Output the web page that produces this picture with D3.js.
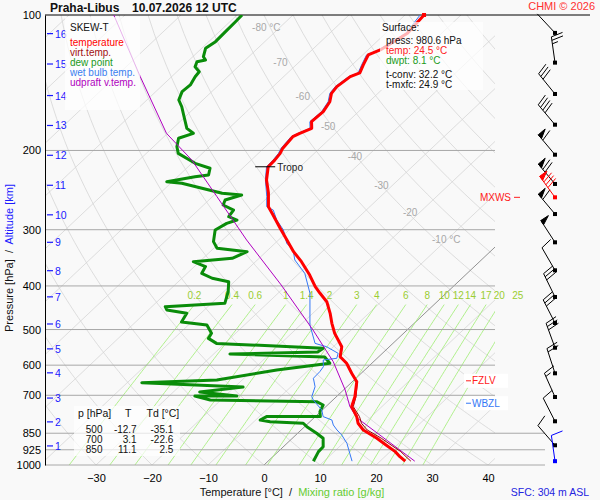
<!DOCTYPE html>
<html>
<head>
<meta charset="utf-8">
<script src="https://cdn.jsdelivr.net/npm/d3@7"></script>
<style>
  body { margin: 0; background: #f9f9f9; }
  svg { font-family: "Liberation Sans", Arial, sans-serif; }
</style>
</head>
<body>
<div id="container"></div>
<script>
// ---- sounding data [pressure hPa, value °C] ----
const tempProfile = [[980.6,24.5],[958.5,22.7],[933.9,20.9],[902.7,18.0],[872.2,15.1],[835.9,11.1],[807.7,8.9],[780.7,7.4],[741.9,4.6],[705.0,3.3],[653.0,0.8],[625.5,-1.7],[594.3,-4.5],[574.5,-6.9],[546.0,-8.5],[509.8,-12.3],[484.3,-14.7],[460.2,-16.9],[433.6,-19.7],[415.3,-22.5],[401.6,-24.6],[378.3,-27.8],[353.3,-31.8],[335.7,-35.1],[316.2,-38.5],[297.4,-42.0],[278.3,-45.7],[266.7,-48.1],[248.6,-50.7],[232.6,-53.5],[217.4,-55.7],[210.1,-55.8],[203.0,-56.1],[197.9,-56.6],[186.4,-57.0],[183.2,-56.4],[178.6,-55.2],[172.6,-56.5],[164.0,-56.3],[155.9,-57.0],[149.3,-58.3],[144.3,-58.6],[137.1,-58.1],[134.5,-57.1],[129.1,-58.0],[122.7,-59.0],[119.6,-57.8],[109.8,-56.1],[100.0,-56.6]];

const virtProfile = [[980.6,25.5],[958.5,23.8],[933.9,21.9],[902.7,18.9],[872.2,15.9],[835.9,11.8],[807.7,9.5],[780.7,7.9],[741.9,4.9],[705.0,3.5],[653.0,0.9],[625.5,-1.6],[594.3,-4.4],[574.5,-6.8],[546.0,-8.4],[509.8,-12.2]];

const dewProfile = [[980.6,8.1],[933.9,7.2],[910.5,7.1],[872.2,5.5],[850.3,3.4],[822.0,0.4],[807.7,-0.9],[801.3,-7.1],[794.3,-9.2],[780.7,-8.7],[780.7,0.9],[761.3,-0.1],[735.6,-0.8],[723.3,-2.6],[717.1,-21.9],[702.6,-25.4],[702.6,-17.9],[688.3,-25.3],[671.0,-18.5],[656.2,-37.4],[647.4,-24.5],[615.0,-15.7],[594.3,-7.5],[575.4,-9.6],[566.6,-27.1],[560.9,-11.8],[550.4,-11.5],[536.7,-31.5],[523.1,-33.9],[509.8,-34.3],[488.5,-36.7],[481.1,-41.8],[460.2,-42.5],[452.4,-46.7],[444.8,-47.6],[437.2,-37.6],[412.0,-39.2],[391.4,-41.0],[384.6,-44.6],[375.0,-47.4],[362.4,-48.0],[353.3,-51.1],[347.3,-44.8],[335.7,-43.4],[329.9,-49.4],[318.9,-51.3],[300.5,-53.2],[290.4,-52.4],[285.5,-51.2],[280.7,-53.3],[271.3,-53.7],[264.4,-56.5],[257.7,-57.1],[251.2,-55.1],[249.0,-58.9],[236.6,-68.0],[234.6,-71.0],[228.7,-66.9],[226.7,-64.8],[219.1,-65.8],[213.6,-69.4],[203.0,-74.3],[196.2,-75.8],[187.9,-77.1],[183.2,-75.4],[178.6,-77.5],[166.8,-80.6],[159.9,-82.5],[154.5,-84.3],[148.0,-85.3],[143.0,-85.1],[137.1,-85.8],[133.7,-86.0],[130.3,-87.7],[127.0,-88.3],[125.9,-87.1],[123.8,-88.1],[118.6,-89.3],[114.6,-88.8],[108.9,-88.9],[103.5,-89.0],[100.0,-89.1]];

const wetProfile = [[980.6,15.0],[941.9,13.1],[894.9,10.7],[857.6,8.2],[835.9,6.4],[814.8,4.8],[794.3,3.6],[780.7,1.4],[754.6,-0.1],[717.1,-3.5],[705.0,-4.4],[669.9,-5.7],[641.6,-7.6],[620.4,-7.7],[604.7,-8.0],[584.3,-9.3],[579.3,-7.2],[564.7,-7.9],[546.0,-11.2],[536.7,-13.9],[488.5,-18.3],[415.3,-24.3],[375.0,-29.0],[350.3,-33.3],[332.8,-35.5],[321.7,-37.9],[300.5,-41.0],[285.5,-44.1],[271.3,-46.6],[266.7,-48.4],[253.3,-50.3],[232.6,-53.7],[217.4,-56.0],[210.1,-56.1],[203.0,-56.4],[197.9,-56.9],[186.4,-57.3],[183.2,-56.7],[178.6,-55.5],[172.6,-56.8],[164.0,-56.6],[155.9,-57.3],[149.3,-58.6],[144.3,-58.9],[137.1,-58.4],[134.5,-57.4],[129.1,-58.3],[122.7,-59.3],[119.6,-58.1],[109.8,-56.4],[100.0,-57.3]];

const parcelProfile = [[980.6,26.2],[786.0,7.7],[741.9,4.3],[681.3,0.3],[589.3,-7.2],[501.2,-16.8],[398.1,-31.0],[316.2,-45.7],[253.3,-59.2],[210.1,-70.6],[183.2,-80.2],[137.1,-95.6],[100.0,-112.0]];

// ---- axes / reference values ----
const pressTicks = [100,200,300,400,500,600,700,850,925,1000];
const tempTicks = [-30,-20,-10,0,10,20,30,40];
const altKm = [1,2,3,4,5,6,7,8,9,10,11,12,13,14,15,16];
const altP  = [907,802,710,624,552,486,423,370,320,278,239,205,176,151,128.5,110];
const mixW  = [0.2,0.4,0.6,1,1.4,2,3,4,6,8,10,12,14,17,20,25];
const mixLabels = ["0.2","0.4","0.6","1","1.4","2","3","4","6","8","10","12","14","17","20","25"];
const isoLabT = [-80,-70,-60,-50,-40,-30,-20,-10];
const isoLabP = [106.5,127.4,151.4,177.1,205.8,239.5,275.4,316.2];

// ---- winds (pressure, direction deg, speed kt) ----
const windP   = [109.6,127.6,149.8,175.3,204.4,237.4,276.9,320,369.3,423.3,483.6,548.8,625.5,706.2,799.6,904];
const windDir = [317,352,321,320,320,320,320,327,330,334,333,340,342,336,333,319];
const windSpd = [0,25,30,40,60,70,60,50,10,30,30,30,20,15,10,10];
const mxws = {p: 254.2, dir: 324, spd: 80};
const sfcWind = {p: 980.6, dir: 352, spd: 10};

// ---- table and surface info ----
const tableP  = [500,700,850];
const tableT  = ["-12.7","3.1","11.1"];
const tableTd = ["-35.1","-22.6","2.5"];
const tropo = {p: 217.4, t: -55.7};
const fzlvP = 650, wbzlP = 729;

const W = 600, H = 500;
const plotL = 45, plotR = 495, plotT = 15, plotB = 465;

const svg = d3.select("#container").append("svg")
  .attr("width", W).attr("height", H);
svg.append("rect").attr("width", W).attr("height", H).attr("fill", "#f9f9f9");

const y = d3.scaleLog().domain([100, 1000]).range([plotT, plotB]);
const xT = d3.scaleLinear().domain([-40, 50]).range([40, 544]);
const skew = 1.06;
const sx = (t, p) => xT(t) + skew * (y(1000) - y(p));

svg.append("clipPath").attr("id", "plot")
  .append("rect").attr("x", plotL).attr("y", plotT).attr("width", plotR - plotL).attr("height", plotB - plotT);

const grid = svg.append("g").attr("clip-path", "url(#plot)");
const pLevels = d3.range(1000, 99, -10);

// dry adiabats
d3.range(-40, 180, 10).forEach(th => {
  const pts = pLevels.map(p => [p, (th + 273.15) * Math.pow(p / 1000, 0.286) - 273.15]);
  grid.append("path")
    .attr("d", d3.line().x(d => sx(d[1], d[0])).y(d => y(d[0]))(pts))
    .attr("fill", "none").attr("stroke", "#d6d6d6").attr("stroke-width", 0.8);
});

// isotherms
d3.range(-130, 50, 10).forEach(t => {
  grid.append("line")
    .attr("x1", sx(t, 1000)).attr("y1", y(1000))
    .attr("x2", sx(t, 100)).attr("y2", y(100))
    .attr("stroke", t === 0 ? "#777" : "#d6d6d6").attr("stroke-width", 0.8);
});

// mixing ratio lines
const mixT = (w, p) => {
  const e = w * p / (622 + w), l = Math.log(e / 6.112);
  return 243.5 * l / (17.67 - l);
};
const mixPs = d3.range(1000, 439, -10).concat([440]);
mixW.forEach((w, i) => {
  grid.append("path")
    .attr("d", d3.line().x(p => sx(mixT(w, p), p)).y(p => y(p))(mixPs))
    .attr("fill", "none").attr("stroke", "#a8ee80").attr("stroke-width", 0.9);
  svg.append("text")
    .attr("x", sx(mixT(w, 440), 440)).attr("y", 299)
    .attr("text-anchor", "middle").attr("font-size", 10).attr("fill", "#9acd32")
    .text(mixLabels[i]);
});

// isobars
pressTicks.slice(1).forEach(p => {
  svg.append("line")
    .attr("x1", plotL).attr("x2", p >= 850 ? 545 : plotR)
    .attr("y1", y(p)).attr("y2", y(p))
    .attr("stroke", "#a8a8a8").attr("stroke-width", 1);
});
svg.append("line").attr("x1", plotL).attr("x2", 590).attr("y1", y(100)).attr("y2", y(100))
  .attr("stroke", "#000");

// isotherm labels
isoLabT.forEach((t, i) => {
  const yy = y(isoLabP[i]);
  const off = -0.063 * (240 - yy);
  svg.append("text")
    .attr("x", sx(t, isoLabP[i]) + off - 14.5).attr("y", yy + 3.5)
    .attr("font-size", 10).attr("fill", "#a8a8a8")
    .text(t + (i === 0 || i === isoLabT.length - 1 ? " °C" : ""));
});

// ---- profiles ----
const line = d3.line().x(d => sx(d[1], d[0])).y(d => y(d[0]));
const curves = svg.append("g").attr("clip-path", "url(#plot)");
curves.append("path").attr("d", line(dewProfile)).attr("fill", "none")
  .attr("stroke", "#0a8c0a").attr("stroke-width", 3).attr("stroke-linejoin", "round");
curves.append("path").attr("d", line(wetProfile)).attr("fill", "none")
  .attr("stroke", "#3478f6").attr("stroke-width", 1);
curves.append("path").attr("d", line(parcelProfile)).attr("fill", "none")
  .attr("stroke", "#b000c0").attr("stroke-width", 1);
curves.append("path").attr("d", line(virtProfile)).attr("fill", "none")
  .attr("stroke", "#9a0000").attr("stroke-width", 1);
curves.append("path").attr("d", line(tempProfile)).attr("fill", "none")
  .attr("stroke", "#ff0000").attr("stroke-width", 3).attr("stroke-linejoin", "round");
const tTop = tempProfile[tempProfile.length - 1];
svg.append("rect").attr("x", sx(tTop[1], tTop[0]) - 2).attr("y", y(tTop[0]) - 2)
  .attr("width", 4).attr("height", 4).attr("fill", "#ff0000");

// tropopause
const tropX = sx(tropo.t, tropo.p);
svg.append("line").attr("x1", tropX - 13).attr("x2", tropX + 7)
  .attr("y1", y(tropo.p)).attr("y2", y(tropo.p)).attr("stroke", "#000");
svg.append("text").attr("x", tropX + 9).attr("y", y(tropo.p) + 4)
  .attr("font-size", 10).attr("fill", "#222").text("Tropo");

// ---- axes ----
const yAxis = svg.append("g").attr("transform", `translate(${plotL},0)`)
  .call(d3.axisLeft(y).tickValues(pressTicks).tickFormat(d3.format("d")).tickSize(0).tickSizeOuter(0).tickPadding(4));
yAxis.select(".domain").attr("stroke", "#000");
yAxis.selectAll("text").attr("font-size", 11).attr("font-family", "Liberation Sans, Arial").attr("fill", "#000");

const xAxis = svg.append("g").attr("transform", `translate(0,${plotB})`)
  .call(d3.axisBottom(xT).tickValues(tempTicks).tickSize(0).tickPadding(9));
xAxis.select(".domain").remove();
xAxis.selectAll("text").attr("font-size", 11).attr("font-family", "Liberation Sans, Arial").attr("fill", "#000");

// altitude ticks
altKm.forEach((k, i) => {
  const yy = y(altP[i]);
  svg.append("line").attr("x1", 47).attr("x2", 53).attr("y1", yy).attr("y2", yy)
    .attr("stroke", "#1a1aff").attr("stroke-width", 1.2);
  svg.append("text").attr("x", 55).attr("y", yy + 4).attr("font-size", 10.5)
    .attr("fill", "#1a1aff").text(k);
});

// axis titles
const yt = svg.append("text").attr("transform", "translate(13,258) rotate(-90)")
  .attr("text-anchor", "middle").attr("font-size", 11).style("white-space", "pre");
yt.append("tspan").attr("fill", "#111").text("Pressure [hPa]  /  ");
yt.append("tspan").attr("fill", "#1a1aff").text("Altitude [km]");

const xt = svg.append("text").attr("x", 292).attr("y", 496)
  .attr("text-anchor", "middle").attr("font-size", 11).style("white-space", "pre");
xt.append("tspan").attr("fill", "#111").text("Temperature [°C]  /  ");
xt.append("tspan").attr("fill", "#66cc33").text("Mixing ratio [g/kg]");

// ---- wind barbs ----
function drawBarb(p, dir, spd, col, dotCol) {
  const g = svg.append("g");
  const cx = 555, cy = y(p);
  const a = dir * Math.PI / 180;
  const ux = Math.sin(a), uy = -Math.cos(a);
  const L = 26;
  const ex = cx + ux * L, ey = cy + uy * L;
  const px = -uy, py = ux;
  const fx = px * 0.97 + ux * 0.24, fy = py * 0.97 + uy * 0.24;
  g.append("line").attr("x1", cx).attr("y1", cy).attr("x2", ex).attr("y2", ey).attr("stroke", col);
  let s = Math.round(spd / 5) * 5, d = 0;
  while (s >= 50) {
    const bx = ex - ux * d, by = ey - uy * d;
    const b2x = ex - ux * (d + 5), b2y = ey - uy * (d + 5);
    g.append("path").attr("d", `M${bx},${by}L${bx + px * 9},${by + py * 9}L${b2x},${b2y}Z`)
      .attr("fill", col).attr("stroke", col);
    d += 7; s -= 50;
  }
  while (s >= 10) {
    const bx = ex - ux * d, by = ey - uy * d;
    g.append("line").attr("x1", bx).attr("y1", by).attr("x2", bx + fx * 12).attr("y2", by + fy * 12)
      .attr("stroke", col);
    d += 3.5; s -= 10;
  }
  if (s >= 5) {
    const bx = ex - ux * d, by = ey - uy * d;
    g.append("line").attr("x1", bx).attr("y1", by).attr("x2", bx + fx * 6).attr("y2", by + fy * 6)
      .attr("stroke", col);
  }
  g.append("rect").attr("x", cx - 2).attr("y", cy - 2).attr("width", 4).attr("height", 4).attr("fill", dotCol);
}
windP.forEach((p, i) => drawBarb(p, windDir[i], windSpd[i], "#000", "#000"));
drawBarb(mxws.p, mxws.dir, mxws.spd, "#ff0000", "#ff0000");
drawBarb(sfcWind.p, sfcWind.dir, sfcWind.spd, "#0000ff", "#0000ff");

// level markers
svg.append("text").attr("x", 511).attr("y", y(mxws.p) + 3.5).attr("text-anchor", "end")
  .attr("font-size", 10).attr("fill", "#ff2020").text("MXWS");
svg.append("line").attr("x1", 514).attr("x2", 520).attr("y1", y(mxws.p)).attr("y2", y(mxws.p)).attr("stroke", "#ff2020");

[[fzlvP, "FZLV", "#ff2020"], [wbzlP, "WBZL", "#3478f6"]].forEach(([p, lab, c]) => {
  const yy = y(p);
  svg.append("rect").attr("x", 464).attr("y", yy - 7).attr("width", 44).attr("height", 14).attr("fill", "#fff");
  svg.append("line").attr("x1", 466).attr("x2", 471).attr("y1", yy).attr("y2", yy).attr("stroke", c);
  svg.append("text").attr("x", 472).attr("y", yy + 3.5).attr("font-size", 10).attr("fill", c).text(lab);
});

// ---- info boxes ----
const boxFill = "rgba(255,255,255,0.7)";
svg.append("rect").attr("x", 65).attr("y", 17).attr("width", 75).attr("height", 93).attr("fill", boxFill);
svg.append("rect").attr("x", 380).attr("y", 22).attr("width", 103).attr("height", 68).attr("fill", boxFill);
svg.append("rect").attr("x", 74).attr("y", 406).attr("width", 106).attr("height", 50).attr("fill", boxFill);

const legend = [["SKEW-T", "#111", 30.5], ["temperature", "#ff0000", 46], ["virt.temp.", "#a01010", 56],
  ["dew point", "#1a9a1a", 66], ["wet bulb temp.", "#3a80f0", 76], ["udpraft v.temp.", "#b000c0", 86]];
legend.forEach(([t, c, yy]) => {
  svg.append("text").attr("x", 70).attr("y", yy).attr("font-size", 10).attr("fill", c).text(t);
});

const sfcInfo = [["Surface:", "#111", 382, 31], ["press: 980.6 hPa", "#111", 386, 43.7],
  ["temp: 24.5 °C", "#ff2020", 386, 53.7], ["dwpt: 8.1 °C", "#1a9a1a", 386, 63.7],
  ["t-conv: 32.2 °C", "#111", 386, 77.7], ["t-mxfc: 24.9 °C", "#111", 386, 88]];
sfcInfo.forEach(([t, c, xx, yy]) => {
  svg.append("text").attr("x", xx).attr("y", yy).attr("font-size", 10).attr("fill", c).text(t);
});

const tbl = svg.append("g").attr("font-size", 10).attr("fill", "#111");
tbl.append("text").attr("x", 78).attr("y", 417).attr("font-size", 10.5).text("p [hPa]");
tbl.append("text").attr("x", 125).attr("y", 417).attr("font-size", 10.5).text("T");
tbl.append("text").attr("x", 146.5).attr("y", 417).attr("font-size", 10.5).text("Td [°C]");
tableP.forEach((p, i) => {
  const yy = 432.5 + i * 10;
  tbl.append("text").attr("x", 102.5).attr("y", yy).attr("text-anchor", "end").text(p);
  tbl.append("text").attr("x", 136.7).attr("y", yy).attr("text-anchor", "end").text(tableT[i]);
  tbl.append("text").attr("x", 173.3).attr("y", yy).attr("text-anchor", "end").text(tableTd[i]);
});

// ---- titles ----
svg.append("text").attr("x", 50).attr("y", 12).attr("font-size", 12).attr("font-weight", "bold")
  .attr("fill", "#111").text("Praha-Libus");
svg.append("text").attr("x", 132).attr("y", 12).attr("font-size", 12).attr("font-weight", "bold")
  .attr("fill", "#111").text("10.07.2026 12 UTC");
svg.append("text").attr("x", 595).attr("y", 10).attr("text-anchor", "end").attr("font-size", 11)
  .attr("fill", "#ff3030").text("CHMI © 2026");
svg.append("text").attr("x", 589).attr("y", 496).attr("text-anchor", "end").attr("font-size", 10.5)
  .attr("fill", "#2424e0").text("SFC: 304 m ASL");
</script>
</body>
</html>
